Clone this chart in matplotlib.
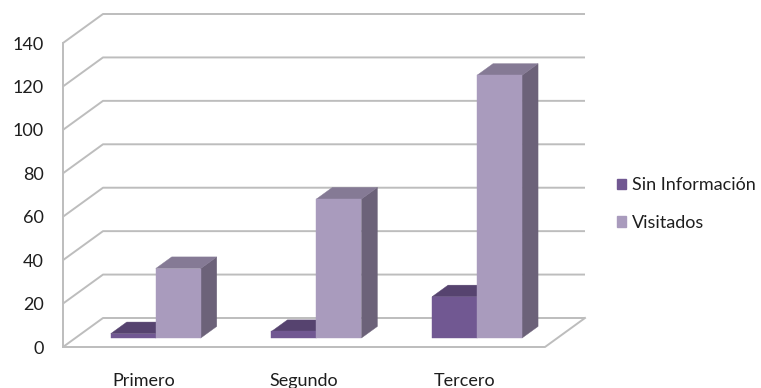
import matplotlib
matplotlib.use("Agg")
import matplotlib.pyplot as plt
from matplotlib.patches import Polygon, Patch

# ---- data ----
categories = ["Primero", "Segundo", "Tercero"]
series_names = ["Sin Información", "Visitados"]
sin_informacion = [2, 3, 19]
visitados = [32, 64, 121]
y_ticks = [0, 20, 40, 60, 80, 100, 120, 140]

# ---- style ----
W, H = 761, 388
FONT = ["Lato", "DejaVu Sans"]
front_cols = ["#715892", "#A99BBD"]
top_cols = ["#56436F", "#857A95"]
side_cols = ["#4F3E66", "#6C6279"]
grid_col = "#BDBDBD"
text_col = "#1E1E1E"

plt.rcParams["font.family"] = FONT

fig = plt.figure(figsize=(W / 100, H / 100), dpi=100)
ax_left, ax_right, ax_top, ax_bot = 63, 545, 43, 347
ax = fig.add_axes([ax_left / W, (H - ax_bot) / H, (ax_right - ax_left) / W, (ax_bot - ax_top) / H])
ncat = len(categories)
ax.set_xlim(0, ncat)
ax.set_ylim(0, y_ticks[-1])

# oblique depth (full depth in pixels) converted to data units
depth_px = (40, 29)
px_per_x = (ax_right - ax_left) / ncat
px_per_y = (ax_bot - ax_top) / y_ticks[-1]
DX = depth_px[0] / px_per_x
DY = depth_px[1] / px_per_y


def P(x, v, d):
    return (x + d * DX, v + d * DY)


# walls / gridlines
lw = 1.4
for t in y_ticks:
    xs, ys = zip(P(0, t, 0), P(0, t, 1), P(ncat, t, 1))
    ax.plot(xs, ys, color=grid_col, lw=lw, clip_on=False, solid_capstyle="butt", zorder=1)
# floor
xs, ys = zip(P(0, 0, 0), P(ncat, 0, 0), P(ncat, 0, 1))
ax.plot(xs, ys, color=grid_col, lw=lw, clip_on=False, zorder=1)
# front vertical axis
xs, ys = zip(P(0, 0, 0), P(0, y_ticks[-1], 0))
ax.plot(xs, ys, color=grid_col, lw=lw, clip_on=False, zorder=1)

# bars
bar_w = 0.28
d0, bd = 0.31, 0.40
series = [sin_informacion, visitados]
z = 2
for i in range(ncat):
    c = i + 0.5
    for s, vals in enumerate(series):
        x0 = c - bar_w + s * bar_w
        x1 = x0 + bar_w
        v = vals[i]
        side = [P(x1, 0, d0), P(x1, v, d0), P(x1, v, d0 + bd), P(x1, 0, d0 + bd)]
        top = [P(x0, v, d0), P(x1, v, d0), P(x1, v, d0 + bd), P(x0, v, d0 + bd)]
        front = [P(x0, 0, d0), P(x1, 0, d0), P(x1, v, d0), P(x0, v, d0)]
        for poly, col in ((side, side_cols[s]), (top, top_cols[s]), (front, front_cols[s])):
            ax.add_patch(Polygon(poly, closed=True, facecolor=col, edgecolor=col,
                                 lw=0.3, clip_on=False, zorder=z))
            z += 1

for sp in ax.spines.values():
    sp.set_visible(False)
ax.set_yticks(y_ticks)
ax.set_yticklabels([str(t) for t in y_ticks])
ax.set_xticks([i + 0.5 for i in range(ncat)])
ax.set_xticklabels(categories)
ax.tick_params(axis="y", length=0, pad=14, labelsize=13, labelcolor=text_col)
ax.tick_params(axis="x", length=0, pad=19, labelsize=13, labelcolor=text_col)
ax.set_facecolor("none")

handles = [Patch(facecolor=front_cols[k], edgecolor=front_cols[k]) for k in range(2)]
leg = fig.legend(handles, series_names, loc="center left",
                 bbox_to_anchor=(617 / W, (H - 204) / H),
                 frameon=False, fontsize=13, handlelength=0.5, handleheight=0.5,
                 handletextpad=0.35, labelspacing=1.2, borderpad=0, borderaxespad=0)
for t in leg.get_texts():
    t.set_color(text_col)

fig.savefig("out.png", dpi=100)
